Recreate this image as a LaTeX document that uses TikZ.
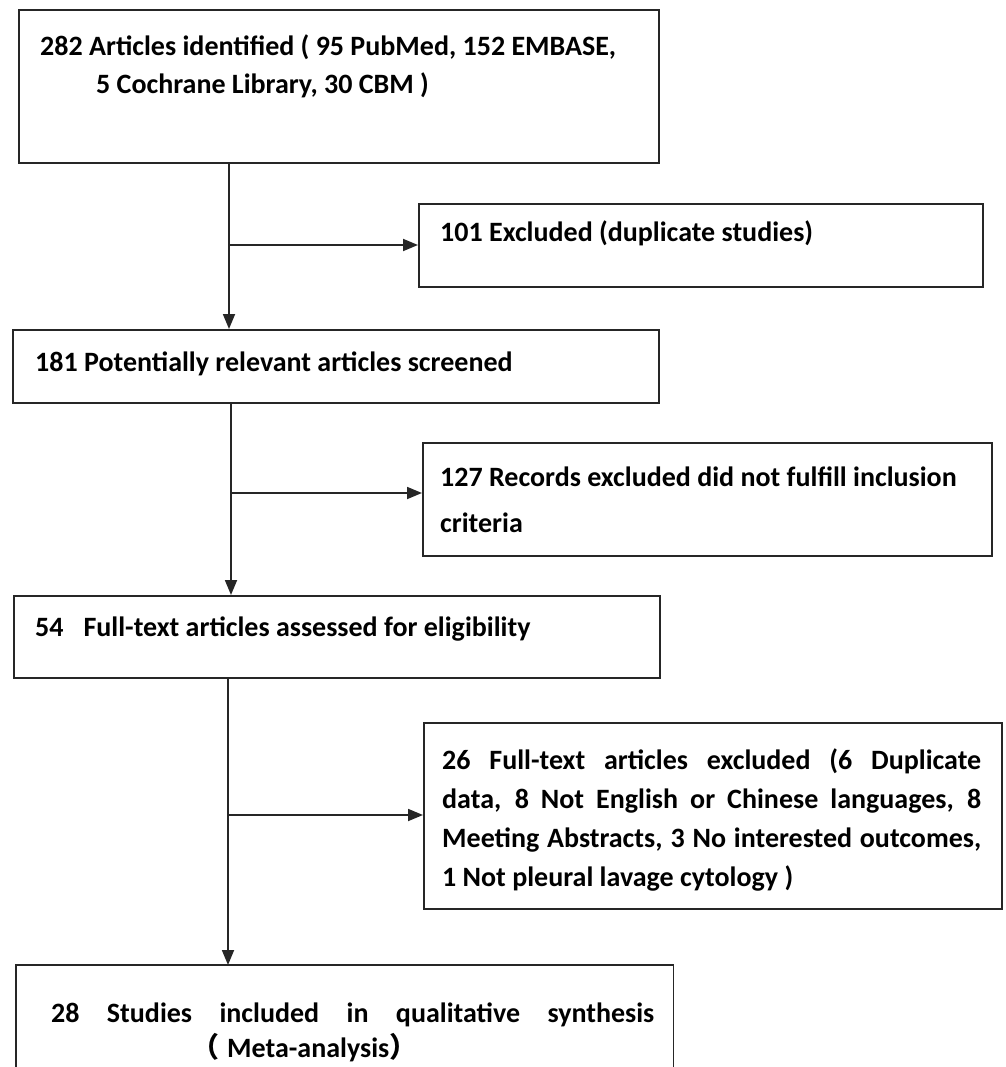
\documentclass[tikz,border=0pt]{standalone}
\usepackage{fontspec}
\setmainfont{Carlito}
\newfontfamily\cjkfont{Noto Sans CJK SC}
\usetikzlibrary{arrows.meta,calc}
\newcommand\jline[2]{\makebox[#1][s]{#2}}
\begin{document}
\begin{tikzpicture}[x=1pt,y=-1pt,
  box/.style={draw=black!85, line width=1.6pt, rectangle, inner sep=0pt, anchor=north west},
  txt/.style={anchor=base west, inner sep=0pt, font=\fontsize{28}{38}\selectfont\bfseries, text=black},
  arr/.style={draw=black!85, line width=1.8pt, -{Triangle[length=15pt,width=12pt]}},
  conn/.style={draw=black!85, line width=1.8pt}
]
\useasboundingbox (0,0) rectangle (1005,1067);
% boxes
\node[box, minimum width=640pt, minimum height=153pt] (b1) at (18,9) {};
\node[box, minimum width=564pt, minimum height=83pt]  (b2) at (418,203) {};
\node[box, minimum width=646pt, minimum height=73pt]  (b3) at (12,329) {};
\node[box, minimum width=569pt, minimum height=113pt] (b4) at (422,442) {};
\node[box, minimum width=646pt, minimum height=82pt]  (b5) at (13,595) {};
\node[box, minimum width=578pt, minimum height=186pt] (b6) at (423,722) {};
\node[inner sep=0pt, anchor=north west, minimum width=657pt, minimum height=102pt] (b7) at (16,965) {};
\draw[draw=black!85, line width=1.6pt] (b7.south west) -- (b7.north west) -- (b7.north east) -- (b7.south east);
% texts
\node[txt] (t1) at (40,56) {\parbox[t]{620pt}{\baselineskip=38pt
282 Articles identified ( 95 PubMed, 152 EMBASE,\\
\hspace*{56pt}5 Cochrane Library, 30 CBM )}};
\node[txt] (t2) at (440,241) {101 Excluded (duplicate studies)};
\node[txt] (t3) at (35,371) {181 Potentially relevant articles screened};
\node[txt] (t4) at (440,486) {\parbox[t]{545pt}{\baselineskip=46pt
127 Records excluded did not fulfill inclusion\\
criteria}};
\node[txt] (t5) at (35,636) {54\hspace{20pt}Full-text articles assessed for eligibility};
\node[txt] (t6) at (442,769) {\parbox[t]{545pt}{\baselineskip=39pt
\jline{539pt}{26 Full-text articles excluded (6 Duplicate}\\
\jline{539pt}{data, 8 Not English or Chinese languages, 8}\\
\jline{539pt}{Meeting Abstracts, 3 No interested outcomes,}\\
1 Not pleural lavage cytology )}};
\node[txt] (t7) at (51,1022) {\parbox[t]{610pt}{\baselineskip=35pt
\jline{603pt}{28 Studies included in qualitative synthesis}\\
\hspace*{140pt}{\cjkfont （}\hspace{8pt}Meta-analysis{\cjkfont ）}}};
% connectors
\coordinate (j1) at (229,245);
\coordinate (j2) at (231,493);
\coordinate (j3) at (228,815);
\draw[arr] (b1.south -| j1) -- (b3.north -| j1);
\draw[arr] (j1) -- (b2.west |- j1);
\draw[arr] (b3.south -| j2) -- (b5.north -| j2);
\draw[arr] (j2) -- (b4.west |- j2);
\draw[arr] (b5.south -| j3) -- (b7.north -| j3);
\draw[arr] (j3) -- (b6.west |- j3);
\end{tikzpicture}
\end{document}
